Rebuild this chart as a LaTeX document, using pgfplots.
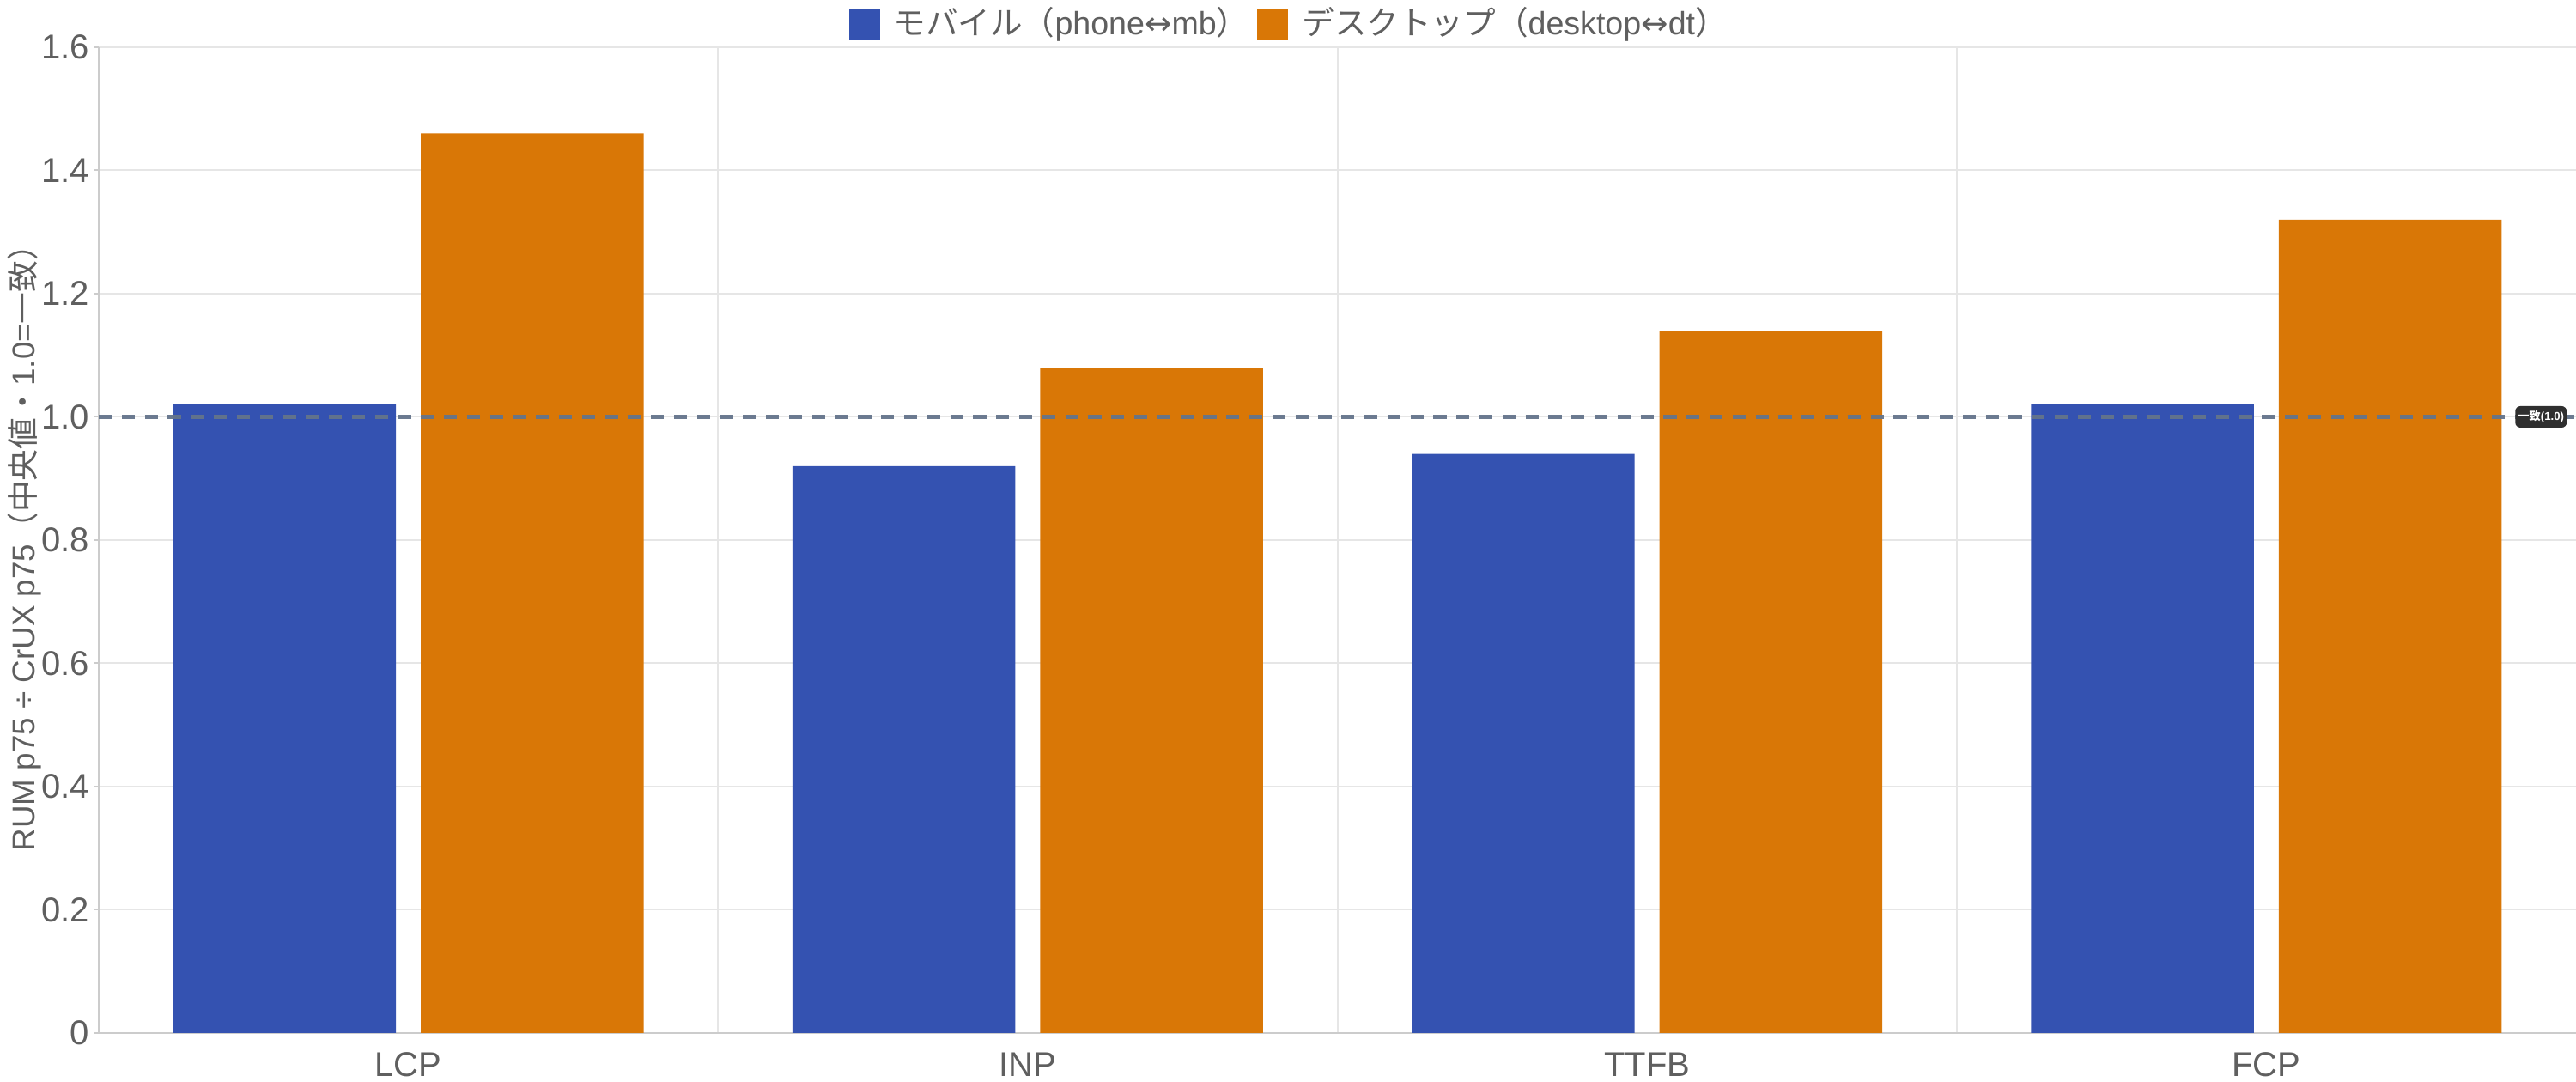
\documentclass[border=0pt]{standalone}
\usepackage{pgfplots}
\pgfplotsset{compat=1.18}
\usepackage{fontspec}
\setmainfont{Liberation Sans}
\newfontfamily\cjk{Noto Sans CJK JP}
\newfontfamily\dv{DejaVu Sans}
\definecolor{mb}{HTML}{3452B1}
\definecolor{dt}{HTML}{D97706}
\definecolor{refl}{HTML}{64748B}
\definecolor{gridc}{HTML}{E6E6E6}
\definecolor{axc}{HTML}{CCCCCC}
\definecolor{txt}{HTML}{5F5F5F}
\definecolor{labc}{HTML}{2F2F2F}
\pgfplotsset{sqlegend/.style={legend image code/.code={\path[##1,draw=none] (0pt,-4.5pt) rectangle (9pt,4.5pt);}}}
\begin{document}
\begin{tikzpicture}
\begin{axis}[
  at={(0,0)}, anchor=south west,
  scale only axis, width=721.25pt, height=287pt,
  xmin=-0.5, xmax=3.5, ymin=0, ymax=1.6,
  xtick={0,1,2,3}, xticklabels={LCP,INP,TTFB,FCP},
  minor xtick={0.5,1.5,2.5},
  ytick={0,0.2,0.4,0.6,0.8,1.0,1.2,1.4,1.6},
  yticklabels={0,0.2,0.4,0.6,0.8,1.0,1.2,1.4,1.6},
  ymajorgrids, xminorgrids,
  grid style={draw=gridc, line width=0.5pt},
  minor grid style={draw=gridc, line width=0.5pt},
  axis x line*=bottom, axis y line*=left,
  axis line style={draw=axc, line width=0.5pt, -},
  tick align=outside, major tick length=1.5pt, minor tick length=0pt,
  xtick style={draw=none},
  ytick style={draw=axc, line width=0.5pt},
  tick label style={font=\fontsize{10}{12}\selectfont, text=txt},
  yticklabel style={inner sep=0pt, xshift=-1pt},
  xticklabel style={yshift=-0.6pt},
  ylabel={RUM p75 ÷ CrUX p75{\cjk （中央値・}1.0={\cjk 一致）}},
  ylabel style={at={(axis description cs:0,0.5)}, anchor=center, yshift=21.5pt, font=\fontsize{9.2}{11}\selectfont, text=txt},
  legend style={at={(axis description cs:0.4815,1)}, anchor=center, yshift=6.8pt,
    draw=none, fill=none, font=\fontsize{9.4}{11}\selectfont, text=txt,
    /tikz/every odd column/.append style={column sep=2pt},
    /tikz/every even column/.append style={column sep=0.5pt}},
  legend columns=2, legend cell align=left,
  clip=false,
]
\addplot[ybar, bar width=0.36, bar shift=-0.2, fill=mb, draw=none, sqlegend]
  coordinates {(0,1.02) (1,0.92) (2,0.94) (3,1.02)};
\addlegendentry{{\cjk モバイル（}phone{\dv ↔}mb{\cjk ）}}
\addplot[ybar, bar width=0.36, bar shift=0.2, fill=dt, draw=none, sqlegend]
  coordinates {(0,1.46) (1,1.08) (2,1.14) (3,1.32)};
\addlegendentry{{\cjk デスクトップ（}desktop{\dv ↔}dt{\cjk ）}}
\addplot[refl, opacity=0.95, line width=1.35pt, dash pattern=on 3.8pt off 2.9pt, forget plot]
  coordinates {(-0.5,1) (3.5,1)};
\node[fill=labc, rounded corners=1.5pt, text=white, font=\fontsize{3.3}{3.8}\selectfont\bfseries,
  inner xsep=0.8pt, inner ysep=0pt, minimum height=6.25pt, anchor=east, xshift=-2.5pt]
  at (axis cs:3.5,1) {{\cjk 一致}(1.0)};
\end{axis}
\pgfresetboundingbox
\path[use as bounding box] (-28.75pt,-14.25pt) rectangle (721.25pt,300.75pt);
\end{tikzpicture}
\end{document}
